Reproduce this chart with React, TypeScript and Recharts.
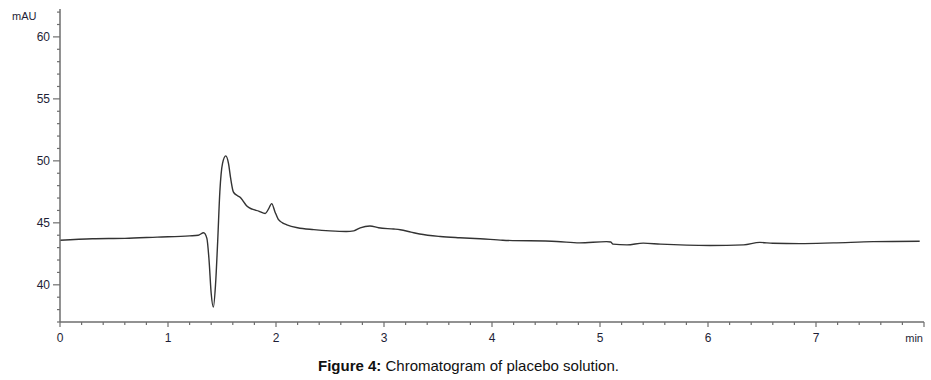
import { LineChart, Line, XAxis, YAxis } from 'recharts';

// retention time (min) and absorbance (mAU)
const times = [
  0, 0.3, 0.6, 0.9, 1.2, 1.28, 1.33, 1.36, 1.38, 1.4, 1.42, 1.44, 1.46, 1.48, 1.505,
  1.535, 1.56, 1.58, 1.605, 1.64, 1.67, 1.7, 1.73, 1.78, 1.84, 1.9, 1.93, 1.96, 1.99,
  2.02, 2.06, 2.1, 2.2, 2.35, 2.5, 2.65, 2.72, 2.78, 2.87, 2.95, 3.09, 3.15, 3.25, 3.33,
  3.52, 3.7, 3.89, 4.1, 4.6, 4.81, 5.06, 5.1, 5.12, 5.25, 5.4, 5.56, 6.02, 6.33, 6.48,
  6.6, 6.85, 7.16, 7.53, 7.96,
];
const absorbance = [
  43.6, 43.72, 43.75, 43.85, 43.95, 44.0, 44.2, 43.75, 42.0, 39.3, 38.2, 40.0, 43.5,
  47.5, 49.8, 50.4, 49.8, 48.6, 47.5, 47.2, 47.05, 46.7, 46.35, 46.1, 45.95, 45.75, 46.1,
  46.55, 45.9, 45.3, 45.0, 44.84, 44.6, 44.45, 44.35, 44.3, 44.35, 44.6, 44.75, 44.6,
  44.5, 44.44, 44.25, 44.1, 43.9, 43.8, 43.72, 43.6, 43.5, 43.38, 43.48, 43.45, 43.28,
  43.22, 43.36, 43.28, 43.17, 43.22, 43.42, 43.35, 43.32, 43.38, 43.48, 43.52,
];

const xMajorLabels = ['0', '1', '2', '3', '4', '5', '6', '7', 'min'];
const yMajorLabels = [40, 45, 50, 55, 60];
const xTicks = Array.from({ length: 41 }, (_, i) => Math.round(i * 2) / 10);
const yTicks = Array.from({ length: 26 }, (_, i) => 37 + i);

const data = times.map((t, i) => ({ t, v: absorbance[i] }));

const axisColor = '#6e6e6e';
const labelColor = '#1e1e36';
const font = 'Arial, "Liberation Sans", sans-serif';

const isMajor = (v: number) => Math.abs(v - Math.round(v)) < 1e-6;

function XTick(props: any) {
  const { x, y, payload } = props;
  const v = payload.value as number;
  const major = isMajor(v);
  const label = major ? xMajorLabels[Math.round(v)] : null;
  const isUnit = label === 'min';
  return (
    <g>
      <line x1={x} x2={x} y1={y} y2={y + (major ? 5 : 3)} stroke={axisColor} strokeWidth={1.2} />
      {label !== null && (
        <text
          x={isUnit ? x - 1 : x}
          y={y + 20}
          textAnchor={isUnit ? 'end' : 'middle'}
          fontSize={isUnit ? 11 : 12}
          fontFamily={font}
          fill={labelColor}
        >
          {label}
        </text>
      )}
    </g>
  );
}

function YTick(props: any) {
  const { x, y, payload } = props;
  const v = payload.value as number;
  const major = yMajorLabels.includes(v);
  return (
    <g>
      <line x1={x} x2={x - (major ? 7 : 3)} y1={y} y2={y} stroke={axisColor} strokeWidth={1.2} />
      {major && (
        <text x={x - 10} y={y + 4} textAnchor="end" fontSize={12} fontFamily={font} fill={labelColor}>
          {v}
        </text>
      )}
    </g>
  );
}

export default function App() {
  return (
    <div style={{ position: 'absolute', left: 0, top: 0, width: 931, height: 380, background: '#fff' }}>
      <LineChart width={931} height={350} data={data} margin={{ top: 9, right: 7, left: 10, bottom: 0 }}>
        <XAxis
          dataKey="t"
          type="number"
          domain={[0, 8]}
          ticks={xTicks}
          interval={0}
          tick={<XTick />}
          tickSize={0}
          tickMargin={0}
          tickLine={false}
          height={28}
          axisLine={{ stroke: axisColor, strokeWidth: 1.5 }}
          allowDataOverflow
        />
        <YAxis
          type="number"
          domain={[37, 62.25]}
          ticks={yTicks}
          interval={0}
          tick={<YTick />}
          tickSize={0}
          tickMargin={0}
          tickLine={false}
          width={50}
          axisLine={{ stroke: axisColor, strokeWidth: 1.5 }}
          allowDataOverflow
          label={{
            content: () => (
              <text x={12} y={20} fontSize={11} fontFamily={font} fill={labelColor}>
                mAU
              </text>
            ),
          }}
        />
        <Line
          type="monotone"
          dataKey="v"
          stroke="#333333"
          strokeWidth={1.4}
          dot={false}
          isAnimationActive={false}
        />
      </LineChart>
      <div
        style={{
          position: 'absolute',
          left: 318,
          top: 357,
          fontFamily: font,
          fontSize: 15,
          color: '#111',
          whiteSpace: 'nowrap',
        }}
      >
        <b>Figure 4:</b> Chromatogram of placebo solution.
      </div>
    </div>
  );
}
